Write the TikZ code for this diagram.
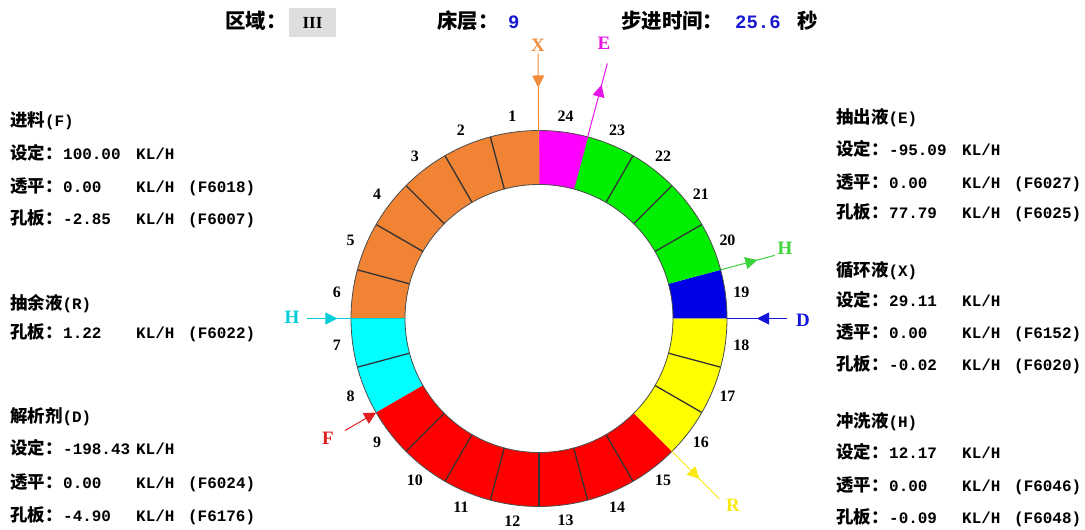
\documentclass[tikz,border=0pt]{standalone}
\usepackage{fontspec}
\usetikzlibrary{arrows.meta,decorations.markings}
\newfontfamily\cjk{Noto Sans CJK SC}
\newfontfamily\mono{Liberation Mono}
\newfontfamily\serifnum{Liberation Serif}
\definecolor{cOr}{RGB}{240,132,52}
\definecolor{cMa}{RGB}{255,0,255}
\definecolor{cGr}{RGB}{0,238,0}
\definecolor{cBl}{RGB}{0,0,230}
\definecolor{cYe}{RGB}{255,255,0}
\definecolor{cRe}{RGB}{255,0,0}
\definecolor{cCy}{RGB}{0,255,255}
\definecolor{aX}{RGB}{240,140,60}
\definecolor{aE}{RGB}{230,20,230}
\definecolor{aH}{RGB}{60,210,60}
\definecolor{aD}{RGB}{20,20,220}
\definecolor{aHl}{RGB}{0,205,215}
\definecolor{aF}{RGB}{225,30,30}
\definecolor{aR}{RGB}{250,232,20}
\definecolor{cVal}{RGB}{25,25,210}
\definecolor{boxgray}{RGB}{222,222,222}
\newcommand{\zh}[1]{{\cjk\bfseries\fontsize{17.5}{20}\selectfont #1}}
\newcommand{\en}[1]{{\mono\bfseries\fontsize{16}{20}\selectfont #1}}
\newcommand{\hd}[2]{\zh{#1}\en{(#2)}}
\newcommand{\rowx}[3]{\makebox[53bp][l]{\zh{#1}}\makebox[73bp][l]{\en{#2}}\makebox[52bp][l]{\en{KL/H}}\en{#3}}
\begin{document}
\begin{tikzpicture}[x=1bp,y=-1bp,
  tx/.style={anchor=base west,inner sep=0pt},
  hz/.style={anchor=base west,inner sep=0pt,font=\cjk\bfseries\fontsize{20.5}{24}\selectfont},
  hm/.style={anchor=base west,inner sep=0pt,text=cVal,font=\mono\bfseries\fontsize{19}{24}\selectfont},
  numlab/.style={inner sep=0pt,font=\serifnum\bfseries\fontsize{16}{16}\selectfont},
  alab/.style={inner sep=2bp,font=\serifnum\bfseries\fontsize{19}{19}\selectfont},
  divider/.style={line width=1.3bp,black!80},
  ringline/.style={line width=0.8bp,black!70},
  flow/.style={line width=1bp},
  midarrow/.style={postaction={decorate},decoration={markings,mark=at position #1 with {\arrow{Triangle[length=12bp,width=12bp]}}}}
]
\fill[white] (0,0) rectangle (1085,530);
\useasboundingbox (0,0) rectangle (1085,530);

% header
\node[hz] (h1) at (225,28.5) {区域：};
\node[fill=boxgray,minimum width=47bp,minimum height=29bp,inner sep=0pt,font=\serifnum\bfseries\fontsize{17}{17}\selectfont] (hb) at (312.5,22.5) {III};
\node[hz] (h2) at (437,28.5) {床层：};
\node[hm] (h3) at (508,28.5) {9};
\node[hz] (h4) at (621,28.5) {步进时间：};
\node[hm] (h5) at (735,28.5) {25.6};
\node[hz] (h6) at (797,28.5) {秒};

% ring
\begin{scope}[shift={(539,318.5)},y=1bp]
  \foreach \k/\c in {1/cOr,2/cOr,3/cOr,4/cOr,5/cOr,6/cOr,7/cCy,8/cCy,9/cRe,10/cRe,11/cRe,12/cRe,13/cRe,14/cRe,15/cRe,16/cYe,17/cYe,18/cYe,19/cBl,20/cGr,21/cGr,22/cGr,23/cGr,24/cMa}{
    \pgfmathsetmacro\aa{90+15*(\k-1)}
    \pgfmathsetmacro\ab{90+15*\k}
    \pgfmathsetmacro\am{90+15*\k-7.5}
    \fill[\c] (\aa:134) -- (\aa:188) arc[start angle=\aa,end angle=\ab,radius=188] -- (\ab:134) arc[start angle=\ab,end angle=\aa,radius=134] -- cycle;
    \node[numlab] (n\k) at (\am:204) {\k};
  }
  \foreach \k in {1,2,3,4,5,7,9,10,11,12,13,14,16,17,20,21,22}{
    \draw[divider] (90+15*\k:134) -- (90+15*\k:188);
  }
  \draw[ringline] (0,0) circle[radius=188];
  \draw[ringline] (0,0) circle[radius=134];
  \coordinate (pX) at (90:134);
  \coordinate (pE1) at (75:134);
  \coordinate (pE2) at (75:264);
  \coordinate (pHr1) at (15:188);
  \coordinate (pHr2) at (15:244);
  \coordinate (pD1) at (0:188);
  \coordinate (pD2) at (0:248);
  \coordinate (pHl1) at (180:232);
  \coordinate (pHl2) at (180:134);
  \coordinate (pF1) at (210:224);
  \coordinate (pF2) at (210:188);
  \coordinate (pR1) at (315:188);
  \coordinate (pR2) at (315:255);
\end{scope}

% flow labels
\node[alab,text=aX] (X) at (538,45) {X};
\node[alab,text=aE] (E) at (604,43) {E};
\node[alab,text=aH] (Hr) at (785,248) {H};
\node[alab,text=aD] (D) at (803,320) {D};
\node[alab,text=aHl] (Hl) at (292,317) {H};
\node[alab,text=aF] (F) at (328,438) {F};
\node[alab,text=aR] (R) at (733,505) {R};

% flow lines
\draw[flow,aX,midarrow=0.26] (X.south) -- (pX);
\draw[flow,aE,midarrow=0.83] (pE1) -- (pE2);
\draw[flow,aH,midarrow=0.68] (pHr1) -- (pHr2);
\draw[flow,aD,midarrow=0.5] (pD2) -- (pD1);
\draw[flow,aHl,midarrow=0.31] (pHl1) -- (pHl2);
\draw[flow,aF,-{Triangle[length=12bp,width=12bp]}] (pF1) -- (pF2);
\draw[flow,aR,midarrow=0.58] (pR1) -- (pR2);

% left text
\node[tx] (l1) at (10,127) {\hd{进料}{F}};
\node[tx] (l2) at (10,160) {\rowx{设定：}{100.00}{}};
\node[tx] (l3) at (10,193) {\rowx{透平：}{0.00}{(F6018)}};
\node[tx] (l4) at (10,225) {\rowx{孔板：}{-2.85}{(F6007)}};
\node[tx] (l5) at (10,310) {\hd{抽余液}{R}};
\node[tx] (l6) at (10,339) {\rowx{孔板：}{1.22}{(F6022)}};
\node[tx] (l7) at (10,422) {\hd{解析剂}{D}};
\node[tx] (l8) at (10,454) {\rowx{设定：}{-198.43}{}};
\node[tx] (l9) at (10,488) {\rowx{透平：}{0.00}{(F6024)}};
\node[tx] (l10) at (10,521) {\rowx{孔板：}{-4.90}{(F6176)}};

% right text
\node[tx] (r1) at (836,124) {\hd{抽出液}{E}};
\node[tx] (r2) at (836,156) {\rowx{设定：}{-95.09}{}};
\node[tx] (r3) at (836,189) {\rowx{透平：}{0.00}{(F6027)}};
\node[tx] (r4) at (836,219) {\rowx{孔板：}{77.79}{(F6025)}};
\node[tx] (r5) at (836,277) {\hd{循环液}{X}};
\node[tx] (r6) at (836,307) {\rowx{设定：}{29.11}{}};
\node[tx] (r7) at (836,339) {\rowx{透平：}{0.00}{(F6152)}};
\node[tx] (r8) at (836,371) {\rowx{孔板：}{-0.02}{(F6020)}};
\node[tx] (r9) at (836,427) {\hd{冲洗液}{H}};
\node[tx] (r10) at (836,458) {\rowx{设定：}{12.17}{}};
\node[tx] (r11) at (836,491) {\rowx{透平：}{0.00}{(F6046)}};
\node[tx] (r12) at (836,523) {\rowx{孔板：}{-0.09}{(F6048)}};
\end{tikzpicture}
\end{document}
